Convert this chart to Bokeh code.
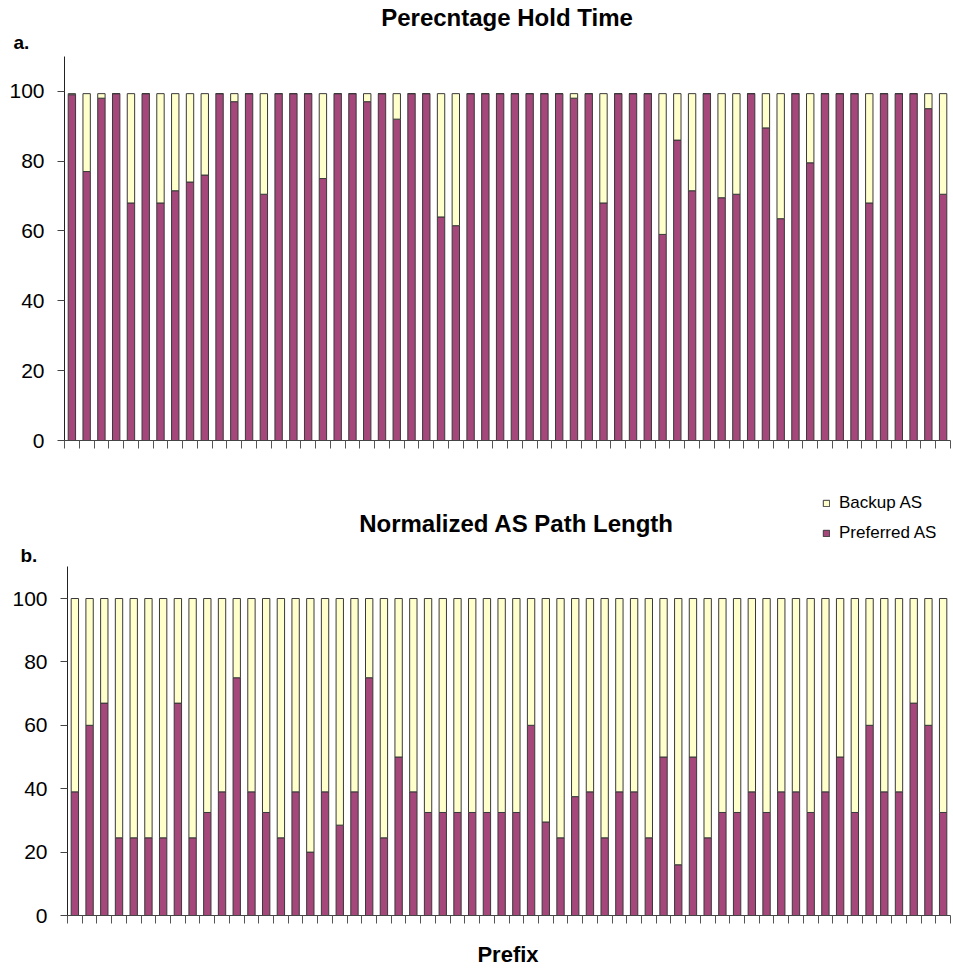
from bokeh.plotting import figure
from bokeh.layouts import column
from bokeh.models import Range1d, FixedTicker, Label, Legend, LegendItem, ColumnDataSource
from bokeh.embed import file_html
from bokeh.resources import INLINE

# ---- data -------------------------------------------------------------
prefixes = list(range(1, 61))

# panel a: percentage of time each prefix is held by the preferred / backup AS
hold_preferred = [99, 77, 98, 99.3, 68, 99.3, 68, 71.5, 74, 76, 99.3, 97, 99.3, 70.5, 99.3, 99.3, 99.3,
                  75, 99.3, 99.3, 97, 99.3, 92, 99.3, 99.3, 64, 61.5, 99.3, 99.3, 99.3, 99.3, 99.3, 99.3,
                  99.3, 98, 99.3, 68, 99.3,
                  99.3, 99.3, 59, 86, 71.5, 99.3, 69.5, 70.5, 99.3, 89.5, 63.5, 99.3, 79.5, 99.3, 99.3,
                  99.3, 68, 99.3, 99.3, 99.3, 95, 70.5]
hold_backup = [0.3, 22.3, 1.3, 0, 31.3, 0, 31.3, 27.8, 25.3, 23.3, 0, 2.3, 0, 28.8, 0, 0, 0,
               24.3, 0, 0, 2.3, 0, 7.3, 0, 0, 35.3, 37.8, 0, 0, 0, 0, 0, 0,
               0, 1.3, 0, 31.3, 0,
               0, 0, 40.3, 13.3, 27.8, 0, 29.8, 28.8, 0, 9.8, 35.8, 0, 19.8, 0, 0,
               0, 31.3, 0, 0, 0, 4.3, 28.8]

# panel b: normalized AS path length of preferred / backup AS
path_preferred = [39, 60, 67, 24.5, 24.5, 24.5, 24.5, 67, 24.5, 32.5, 39, 75, 39, 32.5, 24.5, 39, 20,
                  39, 28.5, 39, 75, 24.5, 50, 39, 32.5, 32.5, 32.5, 32.5, 32.5, 32.5, 32.5, 60, 29.5,
                  24.5, 37.5, 39, 24.5, 39,
                  39, 24.5, 50, 16, 50, 24.5, 32.5, 32.5, 39, 32.5, 39, 39, 32.5, 39, 50, 32.5, 60,
                  39, 39, 67, 60, 32.5]
path_backup = [61, 40, 33, 75.5, 75.5, 75.5, 75.5, 33, 75.5, 67.5, 61, 25, 61, 67.5, 75.5, 61, 80,
               61, 71.5, 61, 25, 75.5, 50, 61, 67.5, 67.5, 67.5, 67.5, 67.5, 67.5, 67.5, 40, 70.5,
               75.5, 62.5, 61, 75.5, 61,
               61, 75.5, 50, 84, 50, 75.5, 67.5, 67.5, 61, 67.5, 61, 61, 67.5, 61, 50, 67.5, 40,
               61, 61, 33, 40, 67.5]

y_ticks = [0, 20, 40, 60, 80, 100]
y_axis_max = 110
series_names = ["Preferred AS", "Backup AS"]

# ---- styling ------------------------------------------------------------
PURPLE = "#A5477A"
YELLOW = "#FFFFCC"
EDGE = "#3a3a3a"
FONT = "Liberation Sans"
W = 953


class Panel:
    """One stacked-bar panel whose frame fills its canvas; the axes sit at
    fixed data locations so titles and the legend can share the frame."""

    def __init__(self, pref, backup, height, ax_left, ax_right, y0_px, y100_px):
        self.h = height
        n = len(prefixes)
        self.xs = (ax_right - ax_left) / n           # px per category
        self.ax_left = ax_left
        self.ys = (y0_px - y100_px) / 100.0           # px per percent
        self.y0 = y0_px
        x_lo, x_hi = self.dx(0), self.dx(W)
        y_lo, y_hi = self.dy(height), self.dy(0)

        p = figure(width=W, height=height, output_backend="svg", toolbar_location=None,
                   x_range=Range1d(x_lo, x_hi), y_range=Range1d(y_lo, y_hi), min_border=0)
        p.outline_line_color = None
        p.xgrid.visible = False
        p.ygrid.visible = False
        p.background_fill_color = "white"
        p.border_fill_color = "white"

        src = ColumnDataSource(dict(x=prefixes, pref=pref, backup=backup))
        self.bars = p.vbar_stack(["pref", "backup"], x="x", width=0.5, source=src,
                                 fill_color=[PURPLE, YELLOW], line_color=EDGE, line_width=1)

        ya = p.yaxis[0]
        ya.fixed_location = 0.5
        ya.bounds = (0, y_axis_max)
        ya.ticker = FixedTicker(ticks=y_ticks)
        ya.major_tick_out = 7
        ya.major_tick_in = 0
        ya.minor_tick_out = 0
        ya.minor_tick_in = 0
        ya.axis_line_color = "#222222"
        ya.major_tick_line_color = "#444444"
        ya.major_label_standoff = 13
        ya.major_label_text_font = FONT
        ya.major_label_text_font_size = "21px"
        ya.major_label_text_color = "black"

        # category boundaries are marked with unlabeled (minor) ticks only
        xa = p.xaxis[0]
        xa.fixed_location = 0
        xa.bounds = (0.5, n + 0.5)
        xa.ticker = FixedTicker(ticks=[], minor_ticks=[i + 0.5 for i in range(n + 1)])
        xa.major_tick_out = 0
        xa.major_tick_in = 0
        xa.minor_tick_out = 8
        xa.minor_tick_in = 0
        xa.axis_line_color = "#444444"
        xa.minor_tick_line_color = "#555555"
        self.p = p

    # canvas pixel -> data coordinate helpers for annotation placement
    def dx(self, px):
        return 0.5 + (px - self.ax_left) / self.xs

    def dy(self, py):
        return (self.y0 - py) / self.ys

    def text(self, txt, px, py, size, align="left", baseline="alphabetic", bold=True):
        self.p.add_layout(Label(x=self.dx(px), y=self.dy(py), text=txt, text_align=align,
                                text_baseline=baseline, text_font=FONT, text_font_size=size,
                                text_font_style="bold" if bold else "normal",
                                text_color="black"))


# ---- panel a ------------------------------------------------------------
a = Panel(hold_preferred, hold_backup, 470, 64, 950, 440, 90.7)
a.text("Perecntage Hold Time", 506.5, 17, "24px", align="center", baseline="middle")
a.text("a.", 13, 42, "19px")

# ---- panel b ------------------------------------------------------------
b = Panel(path_preferred, path_backup, 498, 67, 950, 445, 128)
b.text("Normalized AS Path Length", 516, 53, "24px", align="center", baseline="middle")
b.text("b.", 20, 85, "19px")
b.text("Prefix", 507.5, 484, "22px", align="center", baseline="middle")

legend = Legend(items=[LegendItem(label=series_names[1], renderers=[b.bars[1]]),
                       LegendItem(label=series_names[0], renderers=[b.bars[0]])],
                location=(822, 425), orientation="vertical",
                glyph_width=8, glyph_height=8, label_standoff=9,
                label_height=20, spacing=10, padding=0, margin=0,
                label_text_font=FONT, label_text_font_size="17px", label_text_color="black",
                border_line_color=None, background_fill_alpha=0)
b.p.add_layout(legend)

layout = column(a.p, b.p, spacing=0)
open("out.html", "w").write(file_html(layout, INLINE))
